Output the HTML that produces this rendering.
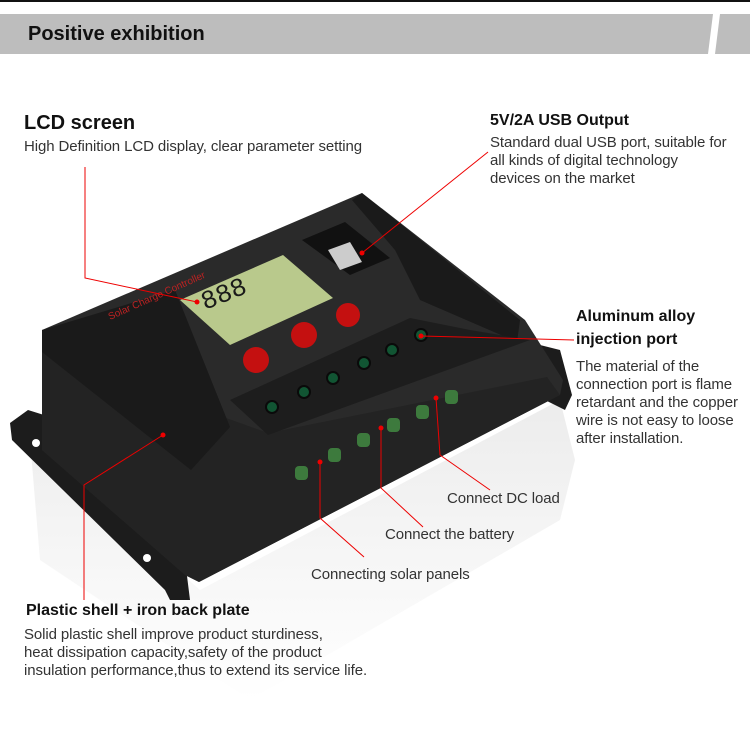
<!DOCTYPE html>
<html><head><meta charset="utf-8"><style>
body{margin:0;width:750px;height:745px;background:#fff;position:relative;overflow:hidden;font-family:"Liberation Sans",Arial,sans-serif;color:#222}
.t{position:absolute;white-space:nowrap}
.b{font-weight:bold;color:#111}
.p{font-size:15px;line-height:18px;color:#333;letter-spacing:-0.1px}
</style></head><body>
<div style="position:absolute;left:0;top:0;width:750px;height:2px;background:#111"></div>
<div style="position:absolute;left:0;top:14px;width:750px;height:40px;background:#bdbdbd"></div>
<svg style="position:absolute;left:0;top:0" width="750" height="745">
<polygon points="713,14 720,14 715,54 708,54" fill="#fff"/>
<defs><linearGradient id="g" x1="0" y1="0" x2="0" y2="1"><stop offset="0" stop-color="#ececec"/><stop offset="1" stop-color="#fff"/></linearGradient></defs>
<polygon points="30,440 200,590 560,400 575,460 560,520 250,700 40,560" fill="url(#g)"/>
<polygon points="10,423 28,410 60,420 185,560 190,600 170,600 165,590 12,440" fill="#1c1c1c"/>
<polygon points="540,345 560,350 572,395 565,410 545,400" fill="#1c1c1c"/>
<circle cx="36" cy="443" r="4" fill="#fff"/><circle cx="147" cy="558" r="4" fill="#fff"/>
<polygon points="42,330 362,193 525,320 563,380 560,395 199,582 185,575 42,450" fill="#2a2a2a"/>
<polygon points="42,352 268,433 547,377 560,395 199,582 185,575 42,450" fill="#232323"/>
<polygon points="42,330 175,290 230,427 191,470 42,352" fill="#1a1a1a"/>
<polygon points="352,200 362,193 520,320 517,342 420,300 395,250" fill="#1a1a1a"/>
<polygon points="230,400 410,318 470,330 530,340 268,435" fill="#1d1d1d"/>
<polygon points="180,300 283,255 333,298 230,345" fill="#b9c98c"/>
<text x="205" y="310" font-size="26" font-family="Liberation Mono" fill="#1a1a1a" transform="rotate(-22 205 310)">888</text>
<text x="110" y="320" font-size="10" fill="#b22" transform="rotate(-24 110 320)">Solar Charge Controller</text>
<polygon points="302,240 345,222 390,258 350,275" fill="#111"/>
<polygon points="328,250 350,242 362,262 340,270" fill="#ccc"/>
<circle cx="256" cy="360" r="13" fill="#c41010"/><circle cx="304" cy="335" r="13" fill="#c41010"/><circle cx="348" cy="315" r="12" fill="#c41010"/>
<g fill="#153" stroke="#0a0a0a" stroke-width="2">
<circle cx="272" cy="407" r="6"/><circle cx="304" cy="392" r="6"/><circle cx="333" cy="378" r="6"/><circle cx="364" cy="363" r="6"/><circle cx="392" cy="350" r="6"/><circle cx="421" cy="335" r="6"/>
</g>
<g fill="#3d7a3d">
<rect x="295" y="466" width="13" height="14" rx="4"/><rect x="328" y="448" width="13" height="14" rx="4"/><rect x="357" y="433" width="13" height="14" rx="4"/><rect x="387" y="418" width="13" height="14" rx="4"/><rect x="416" y="405" width="13" height="14" rx="4"/><rect x="445" y="390" width="13" height="14" rx="4"/>
</g>
<g stroke="#e00" stroke-width="1" fill="none">
<polyline points="85,167 85,278 197,302"/>
<polyline points="488,152 362,253"/>
<polyline points="421,336 574,340"/>
<polyline points="436,398 440,455 490,490"/>
<polyline points="381,428 381,488 423,527"/>
<polyline points="320,462 320,518 364,557"/>
<polyline points="163,435 84,485 84,600"/>
</g>
<g fill="#e00"><circle cx="197" cy="302" r="2.5"/><circle cx="362" cy="253" r="2.5"/><circle cx="421" cy="336" r="2.5"/><circle cx="436" cy="398" r="2.5"/><circle cx="381" cy="428" r="2.5"/><circle cx="320" cy="462" r="2.5"/><circle cx="163" cy="435" r="2.5"/></g>
</svg>
<div class="t b" style="left:28px;top:23px;font-size:20px">Positive exhibition</div>
<div class="t b" style="left:24px;top:112px;font-size:20px">LCD screen</div>
<div class="t p" style="left:24px;top:138px">High Definition LCD display, clear parameter setting</div>
<div class="t b" style="left:490px;top:112px;font-size:16px">5V/2A USB Output</div>
<div class="t p" style="left:490px;top:134px">Standard dual USB port, suitable for<br>all kinds of digital technology<br>devices on the market</div>
<div class="t b" style="left:576px;top:305px;font-size:16px;line-height:23px">Aluminum alloy<br>injection port</div>
<div class="t p" style="left:576px;top:358px">The material of the<br>connection port is flame<br>retardant and the copper<br>wire is not easy to loose<br>after installation.</div>
<div class="t p" style="left:447px;top:490px">Connect DC load</div>
<div class="t p" style="left:385px;top:526px">Connect the battery</div>
<div class="t p" style="left:311px;top:566px">Connecting solar panels</div>
<div class="t b" style="left:26px;top:602px;font-size:16px">Plastic shell + iron back plate</div>
<div class="t p" style="left:24px;top:626px">Solid plastic shell improve product sturdiness,<br>heat dissipation capacity,safety of the product<br>insulation performance,thus to extend its service life.</div>
</body></html>
